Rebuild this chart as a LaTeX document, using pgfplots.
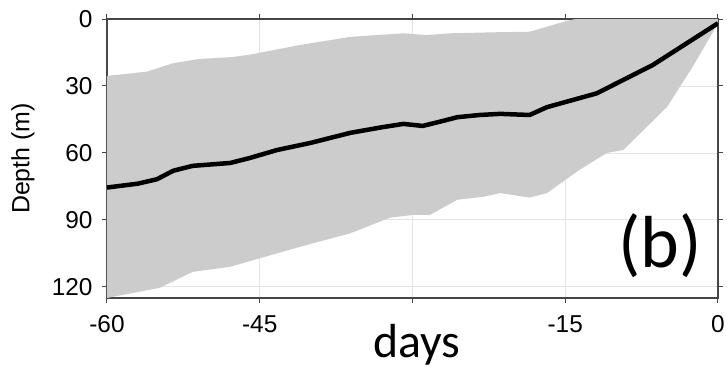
\documentclass[border=0pt]{standalone}
\usepackage{pgfplots}
\pgfplotsset{compat=1.18}
\usepackage{fontspec}
\setmainfont{Liberation Sans}
\newfontfamily\carlito{Carlito}
\definecolor{band}{RGB}{204,204,204}
\definecolor{gridc}{RGB}{228,228,228}
\definecolor{axc}{RGB}{70,70,70}
\begin{document}
\begin{tikzpicture}
\useasboundingbox (-107bp,-72bp) rectangle (621bp,298bp);
\begin{axis}[
  at={(0,0)}, anchor=south west,
  scale only axis, width=611bp, height=279bp,
  xmin=-60, xmax=0, ymin=0, ymax=125, y dir=reverse,
  xtick={-60,-45,-30,-15,0}, xticklabels={-60,-45,{},-15,0},
  ytick={0,30,60,90,120}, yticklabels={0,30,60,90,120},
  tick align=outside, major tick length=5bp,
  tick style={color=axc, line width=1bp},
  axis line style={color=axc, line width=1.2bp},
  grid=major, grid style={color=gridc, line width=0.8bp},
  ticklabel style={font=\fontsize{24.5}{29}\selectfont},
  xticklabel style={yshift=-9bp},
  yticklabel style={xshift=-6bp},
  xlabel={\carlito\fontsize{48}{50}\selectfont days},
  xlabel style={at={(axis description cs:0.507,-0.215)}, anchor=base},
  ylabel={\fontsize{25}{30}\selectfont Depth (m)},
  ylabel style={at={(axis description cs:-0.1375,0.5)}, anchor=center},
]
\addplot[fill=band, draw=none] coordinates {
 (-60,25.5) (-56.1,23.6) (-53.5,19.8) (-50.9,17.9) (-47.6,17) (-46,16)
 (-41,11.6) (-36.1,8) (-30.9,6.4) (-28.6,7.2) (-26.3,6.4) (-21.4,5.9)
 (-18.5,5.7) (-14.8,0.8) (-14,0) (0,0) (0,2)
 (-2.5,21.5) (-5,39.4) (-9.3,58.7) (-10.9,60) (-13.6,67.6) (-16.8,78)
 (-18.5,80) (-21.4,78) (-23.1,79.7) (-25.6,81) (-28.3,87.8) (-30,87.8)
 (-32.2,89) (-36.1,96) (-41,102) (-46,108.5) (-47.9,111) (-51.6,113.3)
 (-54.8,120.4) (-60,125)
} -- cycle;
\addplot[black, line width=4.5bp, line join=round] coordinates {
 (-60,75.5) (-57,73.8) (-55.1,71.8) (-53.5,68) (-51.6,65.8) (-47.9,64.5)
 (-46,62.3) (-43.3,58.7) (-40,55.5) (-36.1,51) (-33,48.5) (-30.9,47)
 (-29,47.9) (-27.3,46) (-25.6,44) (-23.4,43) (-21.4,42.5) (-18.5,43)
 (-16.8,39.5) (-11.9,33.3) (-6.4,20.6) (0,1.9)
};
\node[font=\carlito\fontsize{74}{80}\selectfont, anchor=center] at (axis cs:-5.7,101.7) {(b)};
\end{axis}
\end{tikzpicture}
\end{document}
